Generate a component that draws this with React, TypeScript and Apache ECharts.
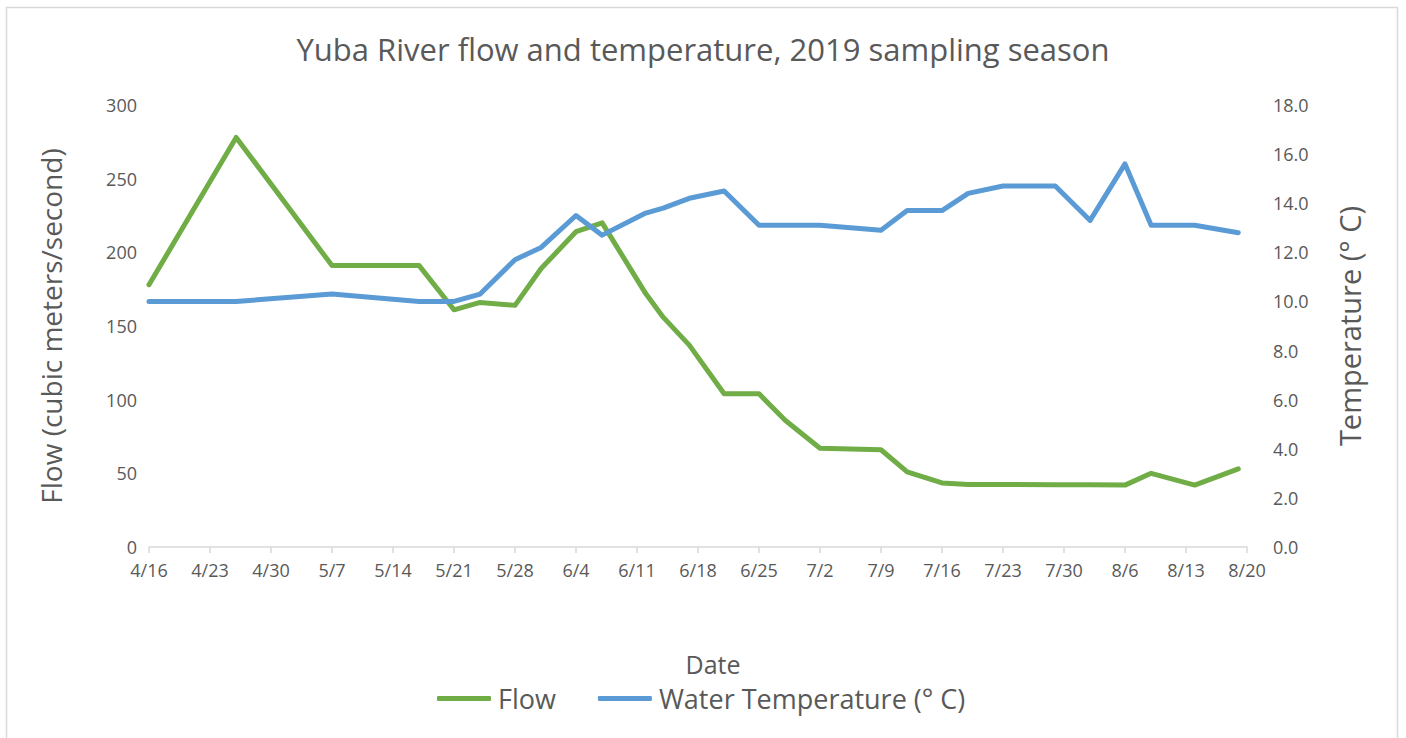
import React, { useEffect, useRef } from "react";
import * as echarts from "echarts";

const sampleDates = [
  "2019-04-16", "2019-04-26", "2019-05-07", "2019-05-17", "2019-05-21", "2019-05-24",
  "2019-05-28", "2019-05-31", "2019-06-04", "2019-06-07", "2019-06-12", "2019-06-14",
  "2019-06-17", "2019-06-21", "2019-06-25", "2019-06-28", "2019-07-02", "2019-07-09",
  "2019-07-12", "2019-07-16", "2019-07-19", "2019-07-23", "2019-07-29", "2019-08-02",
  "2019-08-06", "2019-08-09", "2019-08-14", "2019-08-19",
];
const flowValues = [
  178, 278, 191, 191, 161, 166, 164, 189, 214, 220, 172, 156, 137, 104, 104, 86, 67, 66,
  51, 43.5, 42.5, 42.5, 42.3, 42.2, 42, 50, 42, 53,
];
const tempValues = [
  10.0, 10.0, 10.3, 10.0, 10.0, 10.3, 11.7, 12.2, 13.5, 12.7, 13.6, 13.8, 14.2, 14.5, 13.1,
  13.1, 13.1, 12.9, 13.7, 13.7, 14.4, 14.7, 14.7, 13.3, 15.6, 13.1, 13.1, 12.8,
];
const axisStart = "2019-04-16";
const axisEnd = "2019-08-20";
const seriesNames = ["Flow", "Water Temperature (° C)"];
const titleText = "Yuba River flow and temperature, 2019 sampling season";
const leftAxisName = "Flow (cubic meters/second)";
const rightAxisName = "Temperature (° C)";
const xAxisName = "Date";

const DAY = 86400000;
const toDay = (s: string) =>
  Math.round((Date.parse(s + "T00:00:00Z") - Date.parse(axisStart + "T00:00:00Z")) / DAY);
const dayLabel = (d: number) => {
  const dt = new Date(Date.parse(axisStart + "T00:00:00Z") + d * DAY);
  return `${dt.getUTCMonth() + 1}/${dt.getUTCDate()}`;
};

export default function App() {
  const ref = useRef<HTMLDivElement>(null);
  useEffect(() => {
    if (!ref.current) return;
    const chart = echarts.init(ref.current, null, { renderer: "svg" });
    const font = "Open Sans, Liberation Sans, sans-serif";
    const grey = "#595959";
    const maxDay = toDay(axisEnd);
    chart.setOption({
      animation: false,
      backgroundColor: "#ffffff",
      textStyle: { fontFamily: font },
      title: {
        text: titleText,
        left: "center",
        top: 28,
        textStyle: { fontFamily: font, fontSize: 31, fontWeight: "normal", color: grey },
      },
      graphic: [
        {
          type: "rect",
          shape: { x: 6.5, y: 7.5, width: 1391, height: 740 },
          style: { fill: "none", stroke: "#d9d9d9", lineWidth: 1.5 },
          silent: true,
        },
        {
          type: "text",
          x: 713,
          y: 664,
          style: {
            text: xAxisName,
            fontFamily: font,
            fontSize: 25,
            fill: grey,
            align: "center",
            verticalAlign: "middle",
          },
        },
      ],
      legend: {
        top: 680,
        left: 432,
        itemWidth: 54,
        itemHeight: 5,
        itemGap: 42,
        icon: "roundRect",
        textStyle: { fontFamily: font, fontSize: 27, color: grey, padding: [0, 0, 0, 2] },
        data: seriesNames,
      },
      grid: { left: 149, right: 1406 - 1247, top: 105, bottom: 738 - 547 },
      xAxis: {
        type: "value",
        min: 0,
        max: maxDay,
        interval: 7,
        axisLine: { lineStyle: { color: "#d9d9d9", width: 1.5 } },
        axisTick: { show: true, length: 6, lineStyle: { color: "#d9d9d9", width: 1.5 } },
        splitLine: { show: false },
        axisLabel: {
          formatter: (v: number) => dayLabel(v),
          color: grey,
          fontSize: 18,
          fontFamily: font,
          margin: 14,
        },
      },
      yAxis: [
        {
          type: "value",
          min: 0,
          max: 300,
          interval: 50,
          name: leftAxisName,
          nameLocation: "middle",
          nameGap: 84,
          nameTextStyle: { fontFamily: font, fontSize: 28, color: grey },
          axisLine: { show: false },
          axisTick: { show: false },
          splitLine: { show: false },
          axisLabel: { color: grey, fontSize: 18, fontFamily: font, margin: 12 },
        },
        {
          type: "value",
          min: 0,
          max: 18,
          interval: 2,
          name: rightAxisName,
          nameLocation: "middle",
          nameGap: 88,
          nameRotate: 90,
          nameTextStyle: { fontFamily: font, fontSize: 29, color: grey },
          axisLine: { show: false },
          axisTick: { show: false },
          splitLine: { show: false },
          axisLabel: {
            color: grey,
            fontSize: 18,
            fontFamily: font,
            margin: 26,
            formatter: (v: number) => v.toFixed(1),
          },
        },
      ],
      series: [
        {
          name: seriesNames[0],
          type: "line",
          yAxisIndex: 0,
          showSymbol: false,
          symbol: "none",
          lineStyle: { color: "#70AD47", width: 5, cap: "round", join: "round" },
          itemStyle: { color: "#70AD47" },
          data: sampleDates.map((d, i) => [toDay(d), flowValues[i]]),
        },
        {
          name: seriesNames[1],
          type: "line",
          yAxisIndex: 1,
          showSymbol: false,
          symbol: "none",
          lineStyle: { color: "#5B9BD5", width: 5, cap: "round", join: "round" },
          itemStyle: { color: "#5B9BD5" },
          data: sampleDates.map((d, i) => [toDay(d), tempValues[i]]),
        },
      ],
    });
    return () => chart.dispose();
  }, []);
  return (
    <div
      ref={ref}
      style={{ position: "fixed", left: 0, top: 0, width: 1406, height: 738 }}
    />
  );
}
